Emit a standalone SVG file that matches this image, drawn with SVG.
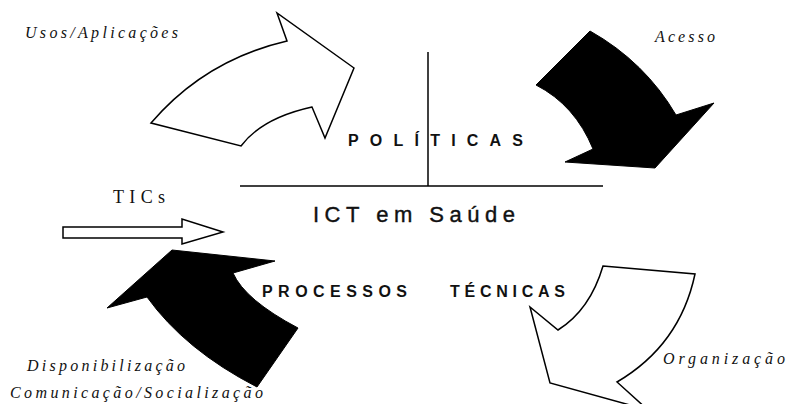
<svg xmlns="http://www.w3.org/2000/svg" width="787" height="404" viewBox="0 0 787 404">
<style>
.white{fill:#fff;stroke:#000;stroke-width:1.5;stroke-linejoin:miter}
.black{fill:#000;stroke:#000;stroke-width:1}
.it{font-family:"Liberation Serif",serif;font-style:italic;font-size:16px;fill:#111}
.lab{font-family:"Liberation Sans",Arial,sans-serif;font-weight:bold;font-size:16px;fill:#111}
.line{stroke:#000;stroke-width:1.5;fill:none}
</style>
<rect width="787" height="404" fill="#fff"/>
<g id="axes">
<line class="line" x1="428" y1="52" x2="428" y2="186"/>
<line class="line" x1="240" y1="186" x2="603" y2="186"/>
</g>
<g id="connectors">
<path id="arrow-usos" class="white" d="M354,68 L277,13 L287,41 Q205,60 151,123 L241,146 Q262,118 312,107 L325,138 Z"/>
<path id="arrow-acesso" class="black" d="M590,31 Q645,62 676,115 L714,103 L655,168 L565,162 L593,149 Q575,105 536,85 Z"/>
<path id="arrow-disp" class="black" d="M172,250 L275,261 L233,273 Q245,300 298,328 L257,387 Q185,350 147,297 L107,308 Z"/>
<path id="arrow-org" class="white" d="M603,266 L695,274 Q680,345 617,382 L648,410 L550,383 L530,307 L558,330 Q590,310 603,266 Z"/>
<path id="arrow-tics" class="white" d="M63,227 L182,227 L182,219 L223,232 L182,244 L182,238 L63,238 Z"/>
</g>
<g id="center">
<text x="313" y="222" font-family="Liberation Sans,Arial,sans-serif" font-size="22" fill="#111" stroke="#111" stroke-width="0.4" textLength="202" lengthAdjust="spacing">ICT em Saúde</text>
</g>
<g id="politicas"><text class="lab" x="348" y="146" textLength="175" lengthAdjust="spacing">POLÍTICAS</text></g>
<g id="processos"><text class="lab" x="262" y="297" textLength="145" lengthAdjust="spacing">PROCESSOS</text></g>
<g id="tecnicas"><text class="lab" x="450" y="297" textLength="115" lengthAdjust="spacing">TÉCNICAS</text></g>
<g id="usos"><text class="it" x="25" y="38" textLength="153" lengthAdjust="spacing">Usos/Aplicações</text></g>
<g id="acesso"><text class="it" x="655" y="42" textLength="60" lengthAdjust="spacing">Acesso</text></g>
<g id="tics"><text x="113" y="203" font-family="Liberation Serif,serif" font-size="18" fill="#111" textLength="52" lengthAdjust="spacing">TICs</text></g>
<g id="organizacao"><text class="it" x="663" y="364" textLength="122" lengthAdjust="spacing">Organização</text></g>
<g id="disponibilizacao"><text class="it" x="27" y="371" textLength="158" lengthAdjust="spacing">Disponibilização</text></g>
<g id="comunicacao"><text class="it" x="10" y="398" textLength="253" lengthAdjust="spacing">Comunicação/Socialização</text></g>
</svg>
